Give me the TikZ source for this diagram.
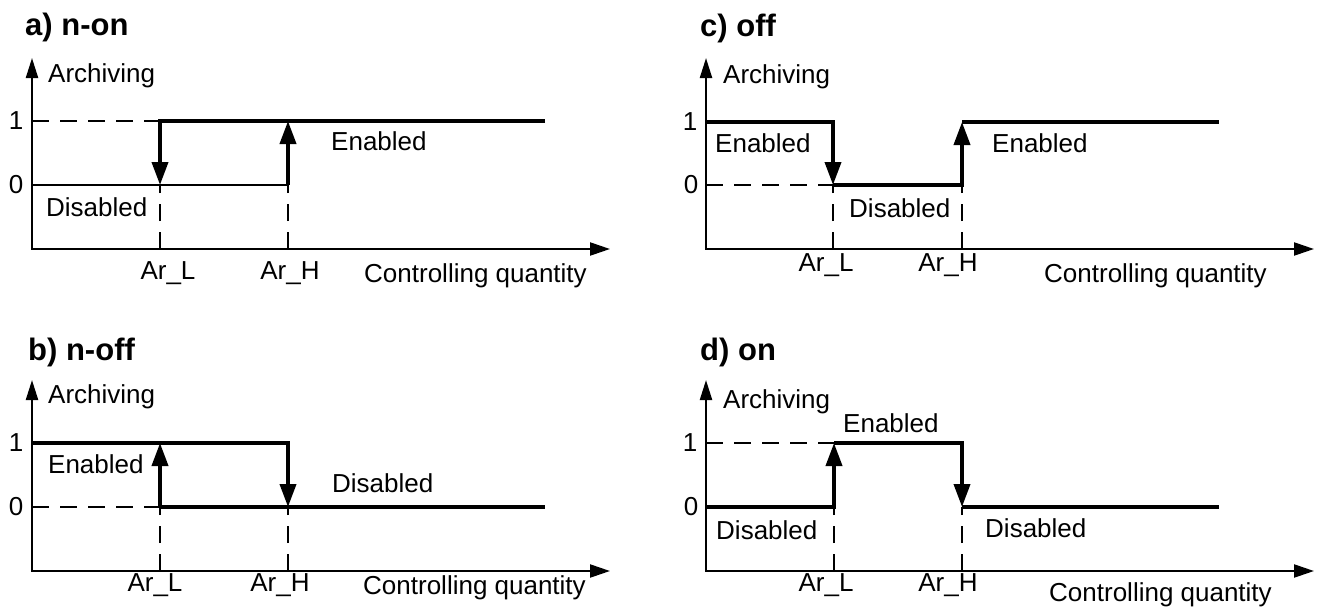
\documentclass[tikz,border=0pt]{standalone}
\usepackage{fontspec}
\setmainfont{Liberation Sans}
\usetikzlibrary{arrows.meta,positioning}

\tikzset{
  axes/.style={line width=2.2pt,line join=miter,{Triangle[length=20pt,width=12pt]}-{Triangle[length=20pt,width=13pt]}},
  stepline/.style={line width=3.8pt,line join=miter},
  steparrow/.style={line width=3.8pt,line join=miter,-{Triangle[length=23pt,width=16pt]}},
  guide/.style={line width=2pt,dash pattern=on 17pt off 11pt},
  lbl/.style={inner sep=0pt,font=\fontsize{26}{30}\selectfont},
  ttl/.style={inner sep=0pt,font=\fontsize{31}{36}\selectfont\bfseries}
}

\begin{document}
\begin{tikzpicture}[x=1pt,y=-1pt]
\useasboundingbox (0,0) rectangle (1319,610);

% a) n-on
\node[ttl,anchor=west] (ta) at (25,27) {a) n-on};
\coordinate (ay) at (32,58);
\coordinate (ao) at (32,249);
\coordinate (ax) at (610,249);
\coordinate (a1) at (32,121);
\coordinate (a0) at (32,185);
\coordinate (aL1) at (160,121);
\coordinate (aL0) at (160,185);
\coordinate (aLx) at (160,249);
\coordinate (aH1) at (288,121);
\coordinate (aH0) at (288,185);
\coordinate (aHx) at (288,249);
\coordinate (aE) at (545,121);
\draw[axes] (ay) -- (ao) -- (ax);
  \draw[guide] (a1) -- (aL1);
    \draw[guide] (aLx) -- (aL0);
      \draw[guide] (aHx) -- (aH0);
\draw[line width=2.8pt] (a0) -- (aH0);
  \draw[steparrow] (aE) -- (aL1) -- (aL0);
    \draw[steparrow] (aH0) -- (aH1);
\node[lbl] (a1l) at (16,121) {1};
\node[lbl] (a0l) at (16,185) {0};
\node[lbl,anchor=west] (aar) at (48,76) {Archiving};
\node[lbl,anchor=west] (aen) at (331,141) {Enabled};
\node[lbl,anchor=west] (adi) at (46,207) {Disabled};
\node[lbl] (aLl) at (168,273) {Ar\_L};
\node[lbl] (aHl) at (290,273) {Ar\_H};
\node[lbl,anchor=west] (acq) at (364,276) {Controlling quantity};

% b) n-off
\node[ttl,anchor=west] (tb) at (28,352) {b) n-off};
\coordinate (by) at (32,380);
\coordinate (bo) at (32,571);
\coordinate (bx) at (610,571);
\coordinate (b1) at (32,443);
\coordinate (b0) at (32,507);
\coordinate (bL1) at (160,443);
\coordinate (bL0) at (160,507);
\coordinate (bLx) at (160,571);
\coordinate (bH1) at (288,443);
\coordinate (bH0) at (288,507);
\coordinate (bHx) at (288,571);
\coordinate (bE) at (545,507);
\draw[axes] (by) -- (bo) -- (bx);
  \draw[guide] (b0) -- (bL0);
    \draw[guide] (bLx) -- (bL0);
      \draw[guide] (bHx) -- (bH0);
\draw[steparrow] (b1) -- (bH1) -- (bH0);
  \draw[stepline] (bL0) -- (bE);
    \draw[steparrow] (bL0) -- (bL1);
\node[lbl] (b1l) at (16,443) {1};
\node[lbl] (b0l) at (16,507) {0};
\node[lbl,anchor=west] (bar) at (48,397) {Archiving};
\node[lbl,anchor=west] (ben) at (48,464) {Enabled};
\node[lbl,anchor=west] (bdi) at (332,483) {Disabled};
\node[lbl] (bLl) at (155,585) {Ar\_L};
\node[lbl] (bHl) at (280,585) {Ar\_H};
\node[lbl,anchor=west] (bcq) at (363,588) {Controlling quantity};

% c) off
\node[ttl,anchor=west] (tc) at (700,28) {c) off};
\coordinate (cy) at (706,58);
\coordinate (co) at (706,249);
\coordinate (cx) at (1314,249);
\coordinate (c1) at (706,122);
\coordinate (c0) at (706,185);
\coordinate (cL1) at (833,122);
\coordinate (cL0) at (833,185);
\coordinate (cLx) at (833,249);
\coordinate (cH1) at (962,122);
\coordinate (cH0) at (962,185);
\coordinate (cHx) at (962,249);
\coordinate (cE) at (1219,122);
\draw[axes] (cy) -- (co) -- (cx);
  \draw[guide] (c0) -- (cL0);
    \draw[guide] (cLx) -- (cL0);
      \draw[guide] (cHx) -- (cH0);
\draw[steparrow] (c1) -- (cL1) -- (cL0);
  \draw[steparrow] (cL0) -- (cH0) -- (cH1);
    \draw[stepline] (cH1) -- (cE);
\node[lbl] (c1l) at (690,122) {1};
\node[lbl] (c0l) at (691,185) {0};
\node[lbl,anchor=west] (car) at (723,77) {Archiving};
\node[lbl,anchor=west] (cen) at (715,143) {Enabled};
\node[lbl,anchor=west] (cdi) at (849,208) {Disabled};
\node[lbl,anchor=west] (cen2) at (992,143) {Enabled};
\node[lbl] (cLl) at (826,265) {Ar\_L};
\node[lbl] (cHl) at (948,265) {Ar\_H};
\node[lbl,anchor=west] (ccq) at (1044,276) {Controlling quantity};

% d) on
\node[ttl,anchor=west] (td) at (700,352) {d) on};
\coordinate (dy) at (706,380);
\coordinate (do) at (706,571);
\coordinate (dx) at (1314,571);
\coordinate (d1) at (706,443);
\coordinate (d0) at (706,507);
\coordinate (dL1) at (834,443);
\coordinate (dL0) at (834,507);
\coordinate (dLx) at (834,571);
\coordinate (dH1) at (962,443);
\coordinate (dH0) at (962,507);
\coordinate (dHx) at (962,571);
\coordinate (dE) at (1219,507);
\draw[axes] (dy) -- (do) -- (dx);
  \draw[guide] (d1) -- (dL1);
    \draw[guide] (dLx) -- (dL0);
      \draw[guide] (dHx) -- (dH0);
\draw[steparrow] (d0) -- (dL0) -- (dL1);
  \draw[steparrow] (dL1) -- (dH1) -- (dH0);
    \draw[stepline] (dH0) -- (dE);
\node[lbl] (d1l) at (690,443) {1};
\node[lbl] (d0l) at (691,507) {0};
\node[lbl,anchor=west] (dar) at (723,402) {Archiving};
\node[lbl,anchor=west] (den) at (843,423) {Enabled};
\node[lbl,anchor=west] (ddi) at (716,530) {Disabled};
\node[lbl,anchor=west] (ddi2) at (985,528) {Disabled};
\node[lbl] (dLl) at (826,585) {Ar\_L};
\node[lbl] (dHl) at (948,585) {Ar\_H};
\node[lbl,anchor=west] (dcq) at (1049,595) {Controlling quantity};
\end{tikzpicture}
\end{document}
